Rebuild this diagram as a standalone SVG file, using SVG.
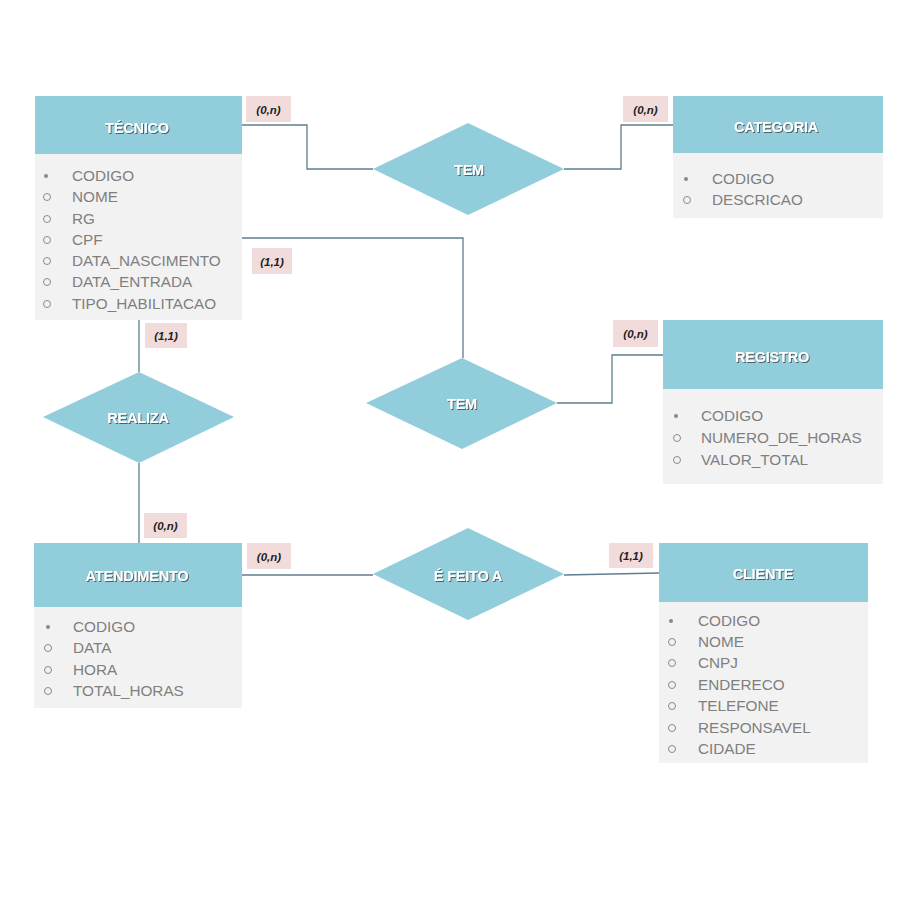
<svg xmlns="http://www.w3.org/2000/svg" width="913" height="900" viewBox="0 0 913 900">
<defs>
<filter id="sh" x="-10%" y="-30%" width="130%" height="160%">
<feDropShadow dx="1" dy="1" stdDeviation="0.4" flood-color="#4a4a4a" flood-opacity="0.85"/>
</filter>
<style>
.hdr{fill:#92CDDC}
.body{fill:#F2F2F2}
.rel{fill:#92CDDC}
.title{font-family:"Liberation Sans",Arial,sans-serif;font-weight:bold;font-size:14.5px;fill:#fff;text-anchor:middle;letter-spacing:-0.2px;filter:url(#sh)}
.attr{font-family:"Liberation Sans",Arial,sans-serif;font-size:15.3px;fill:#7f7f7f}
.dot{fill:#888}
.ring{fill:none;stroke:#8a8a8a;stroke-width:1}
.card{fill:#F2DCDB}
.ct{font-family:"Liberation Sans",Arial,sans-serif;font-weight:bold;font-style:italic;font-size:11.5px;fill:#222;text-anchor:middle}
.conn{fill:none;stroke:#5f7d90;stroke-width:1.3}
</style>
</defs>
<rect width="913" height="900" fill="#fff"/>

<g id="connectors">
<path class="conn" d="M242,125 H307 V169 H373"/>
<path class="conn" d="M564,169 H621 V125 H673"/>
<path class="conn" d="M242,238 H463 V358"/>
<path class="conn" d="M557,403 H612 V355 H663"/>
<path class="conn" d="M139,320 V372"/>
<path class="conn" d="M139,463 V543"/>
<path class="conn" d="M242,575 H373"/>
<path class="conn" d="M564,575 L659,573"/>
</g>

<g id="cardinalities">
<rect class="card" x="246" y="96" width="45" height="26"/><text class="ct" x="268.5" y="114">(0,n)</text>
<rect class="card" x="623" y="96" width="45" height="26"/><text class="ct" x="645.5" y="114">(0,n)</text>
<rect class="card" x="252" y="248" width="40" height="26"/><text class="ct" x="272" y="266">(1,1)</text>
<rect class="card" x="613" y="320" width="45" height="27"/><text class="ct" x="635.5" y="338">(0,n)</text>
<rect class="card" x="145" y="323" width="42" height="25"/><text class="ct" x="166" y="340">(1,1)</text>
<rect class="card" x="144" y="513" width="43" height="25"/><text class="ct" x="165.5" y="530">(0,n)</text>
<rect class="card" x="247" y="543" width="44" height="26"/><text class="ct" x="269" y="561">(0,n)</text>
<rect class="card" x="609" y="543" width="44" height="25"/><text class="ct" x="631" y="560">(1,1)</text>
</g>

<g id="tecnico">
<rect class="hdr" x="35" y="96" width="207" height="58"/>
<rect class="body" x="35" y="154" width="207" height="166"/>
<text class="title" x="137" y="133">TÉCNICO</text>
<circle class="dot" cx="46" cy="176" r="2"/><text class="attr" x="72" y="181">CODIGO</text>
<circle class="ring" cx="47" cy="197" r="3.5"/><text class="attr" x="72" y="202">NOME</text>
<circle class="ring" cx="47" cy="219" r="3.5"/><text class="attr" x="72" y="224">RG</text>
<circle class="ring" cx="47" cy="240" r="3.5"/><text class="attr" x="72" y="245">CPF</text>
<circle class="ring" cx="47" cy="261" r="3.5"/><text class="attr" x="72" y="266">DATA_NASCIMENTO</text>
<circle class="ring" cx="47" cy="282" r="3.5"/><text class="attr" x="72" y="287">DATA_ENTRADA</text>
<circle class="ring" cx="47" cy="304" r="3.5"/><text class="attr" x="72" y="309">TIPO_HABILITACAO</text>
</g>

<g id="categoria">
<rect class="hdr" x="673" y="96" width="210" height="57"/>
<rect class="body" x="673" y="153" width="210" height="65"/>
<text class="title" x="776" y="132">CATEGORIA</text>
<circle class="dot" cx="686" cy="179" r="2"/><text class="attr" x="712" y="184">CODIGO</text>
<circle class="ring" cx="687" cy="200" r="3.5"/><text class="attr" x="712" y="205">DESCRICAO</text>
</g>

<g id="registro">
<rect class="hdr" x="663" y="320" width="220" height="69"/>
<rect class="body" x="663" y="389" width="220" height="95"/>
<text class="title" x="772" y="362">REGISTRO</text>
<circle class="dot" cx="676" cy="416" r="2"/><text class="attr" x="701" y="421">CODIGO</text>
<circle class="ring" cx="677" cy="438" r="3.5"/><text class="attr" x="701" y="443">NUMERO_DE_HORAS</text>
<circle class="ring" cx="677" cy="460" r="3.5"/><text class="attr" x="701" y="465">VALOR_TOTAL</text>
</g>

<g id="atendimento">
<rect class="hdr" x="34" y="543" width="208" height="64"/>
<rect class="body" x="34" y="607" width="208" height="101"/>
<text class="title" x="137" y="581">ATENDIMENTO</text>
<circle class="dot" cx="48" cy="627" r="2"/><text class="attr" x="73" y="632">CODIGO</text>
<circle class="ring" cx="48" cy="648" r="3.5"/><text class="attr" x="73" y="653">DATA</text>
<circle class="ring" cx="48" cy="670" r="3.5"/><text class="attr" x="73" y="675">HORA</text>
<circle class="ring" cx="48" cy="691" r="3.5"/><text class="attr" x="73" y="696">TOTAL_HORAS</text>
</g>

<g id="cliente">
<rect class="hdr" x="659" y="543" width="209" height="59"/>
<rect class="body" x="659" y="602" width="209" height="161"/>
<text class="title" x="763" y="579">CLIENTE</text>
<circle class="dot" cx="671" cy="621" r="2"/><text class="attr" x="698" y="626">CODIGO</text>
<circle class="ring" cx="672" cy="642" r="3.5"/><text class="attr" x="698" y="647">NOME</text>
<circle class="ring" cx="672" cy="663" r="3.5"/><text class="attr" x="698" y="668">CNPJ</text>
<circle class="ring" cx="672" cy="685" r="3.5"/><text class="attr" x="698" y="690">ENDERECO</text>
<circle class="ring" cx="672" cy="706" r="3.5"/><text class="attr" x="698" y="711">TELEFONE</text>
<circle class="ring" cx="672" cy="728" r="3.5"/><text class="attr" x="698" y="733">RESPONSAVEL</text>
<circle class="ring" cx="672" cy="749" r="3.5"/><text class="attr" x="698" y="754">CIDADE</text>
</g>

<g id="tem1">
<polygon class="rel" points="468,123 564,169 468,215 373,169"/>
<text class="title" x="469" y="175">TEM</text>
</g>

<g id="tem2">
<polygon class="rel" points="462,358 557,403 462,449 366,403"/>
<text class="title" x="462" y="409">TEM</text>
</g>

<g id="realiza">
<polygon class="rel" points="139,372 234,417 139,463 43,417"/>
<text class="title" x="138" y="423">REALIZA</text>
</g>

<g id="e_feito_a">
<polygon class="rel" points="468,528 564,574 468,620 373,574"/>
<text class="title" x="468" y="581">É FEITO A</text>
</g>
</svg>
